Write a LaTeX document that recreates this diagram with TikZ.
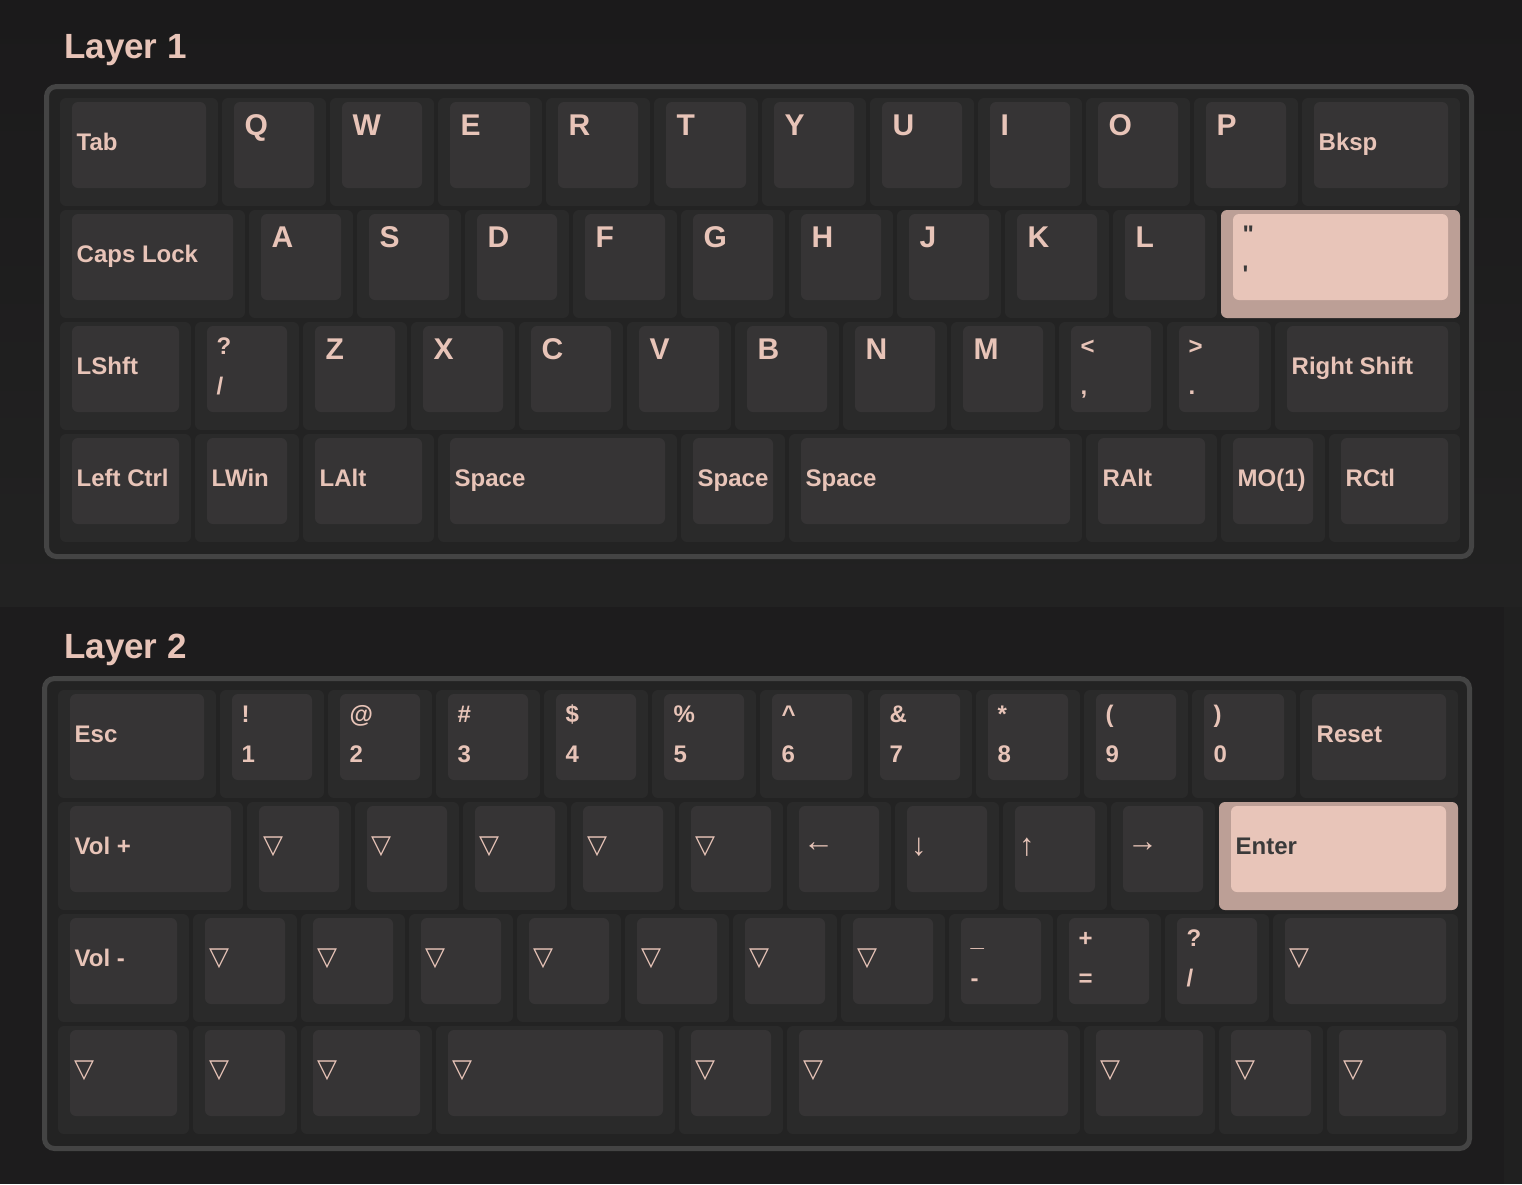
\documentclass[tikz,border=0pt]{standalone}
\usepackage{fontspec}
\setmainfont{Liberation Sans}
\newfontfamily\symfont{DejaVu Sans}
\usepackage{tikz}

\definecolor{pagetop}{HTML}{1B1A1B}
\definecolor{pagemid}{HTML}{222222}
\definecolor{pagelow}{HTML}{1D1C1D}
\definecolor{pageside}{HTML}{202020}
\definecolor{framefill}{HTML}{232323}
\definecolor{frameline}{HTML}{444444}
\definecolor{cellfill}{HTML}{2A2A2A}
\definecolor{capfill}{HTML}{363435}
\definecolor{legend}{HTML}{E8C4B8}
\definecolor{hicell}{HTML}{BC9F96}
\definecolor{hicap}{HTML}{E8C5B9}
\definecolor{hilegend}{HTML}{3A3A3A}

\tikzset{
  keycell/.style={fill=cellfill, rounded corners=6pt},
  keycellhi/.style={fill=hicell, rounded corners=6pt},
  keycap/.style={fill=capfill, rounded corners=6pt},
  keycaphi/.style={fill=hicap, rounded corners=6pt},
  txt/.style={text=legend, inner sep=0pt, anchor=base west, font=\bfseries\fontsize{24}{24}\selectfont},
  txthi/.style={txt, text=hilegend},
  letter/.style={txt, font=\bfseries\fontsize{30}{30}\selectfont},
  sym/.style={text=legend, inner sep=0pt, anchor=west, font=\symfont\fontsize{26}{26}\selectfont},
  arrowtxt/.style={text=legend, inner sep=0pt, anchor=west, font=\fontsize{31}{31}\selectfont},
  title/.style={text=legend, inner sep=0pt, anchor=base west, font=\bfseries\fontsize{35}{35}\selectfont},
  board/.style={fill=framefill, draw=frameline, line width=5pt, rounded corners=10pt},
}

% cell and cap: col, row, width, hi
\newcommand{\keybase}[4]{%
  \fill[keycell#4] ({58+#1*108+2},{96+#2*112+2}) rectangle ({58+(#1+#3)*108-2},{96+#2*112+110});
  \fill[keycap#4] ({58+#1*108+14},{96+#2*112+6}) rectangle ({58+(#1+#3)*108-14},{96+#2*112+92});}
\newcommand{\keyc}[6][]{\keybase{#3}{#4}{#5}{#1}%
  \node[txt#1] (#2) at ({76.5+#3*108},{150+#4*112}) {#6};}
\newcommand{\keyl}[5]{\keybase{#2}{#3}{#4}{}%
  \node[letter] (#1) at ({82.5+#2*108},{135+#3*112}) {#5};}
\newcommand{\keyt}[7][]{\keybase{#3}{#4}{#5}{#1}%
  \node[txt#1] (#2a) at ({81.5+#3*108},{130+#4*112}) {#6};
  \node[txt#1] (#2b) at ({81.5+#3*108},{170+#4*112}) {#7};}
\newcommand{\keys}[6][sym]{\keybase{#3}{#4}{#5}{}%
  \node[#1] (#2) at ({76+#3*108},{143+#4*112}) {#6};}

\begin{document}
\begin{tikzpicture}[x=1pt,y=-1pt]
\useasboundingbox (0,0) rectangle (1522,1184);
\shade[top color=pagetop, bottom color=pagemid] (0,0) rectangle (1522,607);
\fill[pagelow] (0,607) rectangle (1504,1184);
\fill[pageside] (1504,607) rectangle (1522,1184);

%layer 1
\node[title] (titlea) at (64,58) {Layer 1};
\draw[board] (46.5,86.5) rectangle (1471.5,556.5);
\keyc{atab}{0}{0}{1.5}{Tab}
\keyl{aq}{1.5}{0}{1}{Q}
\keyl{aw}{2.5}{0}{1}{W}
\keyl{ae}{3.5}{0}{1}{E}
\keyl{ar}{4.5}{0}{1}{R}
\keyl{at}{5.5}{0}{1}{T}
\keyl{ay}{6.5}{0}{1}{Y}
\keyl{au}{7.5}{0}{1}{U}
\keyl{ai}{8.5}{0}{1}{I}
\keyl{ao}{9.5}{0}{1}{O}
\keyl{ap}{10.5}{0}{1}{P}
\keyc{abksp}{11.5}{0}{1.5}{Bksp}
\keyc{acaps}{0}{1}{1.75}{Caps Lock}
\keyl{aa}{1.75}{1}{1}{A}
\keyl{as}{2.75}{1}{1}{S}
\keyl{ad}{3.75}{1}{1}{D}
\keyl{af}{4.75}{1}{1}{F}
\keyl{ag}{5.75}{1}{1}{G}
\keyl{ah}{6.75}{1}{1}{H}
\keyl{aj}{7.75}{1}{1}{J}
\keyl{ak}{8.75}{1}{1}{K}
\keyl{al}{9.75}{1}{1}{L}
\keyt[hi]{aquote}{10.75}{1}{2.25}{\textquotedbl}{\textquotesingle}
\keyc{alshft}{0}{2}{1.25}{LShft}
\keyt{aslash}{1.25}{2}{1}{?}{/}
\keyl{az}{2.25}{2}{1}{Z}
\keyl{ax}{3.25}{2}{1}{X}
\keyl{ac}{4.25}{2}{1}{C}
\keyl{av}{5.25}{2}{1}{V}
\keyl{ab}{6.25}{2}{1}{B}
\keyl{an}{7.25}{2}{1}{N}
\keyl{am}{8.25}{2}{1}{M}
\keyt{acomma}{9.25}{2}{1}{<}{,}
\keyt{adot}{10.25}{2}{1}{>}{.}
\keyc{arshft}{11.25}{2}{1.75}{Right Shift}
\keyc{alctrl}{0}{3}{1.25}{Left Ctrl}
\keyc{alwin}{1.25}{3}{1}{LWin}
\keyc{alalt}{2.25}{3}{1.25}{LAlt}
\keyc{aspl}{3.5}{3}{2.25}{Space}
\keyc{aspm}{5.75}{3}{1}{Space}
\keyc{aspr}{6.75}{3}{2.75}{Space}
\keyc{aralt}{9.5}{3}{1.25}{RAlt}
\keyc{amo}{10.75}{3}{1}{MO(1)}
\keyc{arctl}{11.75}{3}{1.25}{RCtl}

%layer 2
\node[title] (titleb) at (64,658) {Layer 2};
\begin{scope}[shift={(-2,592)}]
\draw[board] (46.5,86.5) rectangle (1471.5,556.5);
\keyc{besc}{0}{0}{1.5}{Esc}
\keyt{bone}{1.5}{0}{1}{!}{1}
\keyt{btwo}{2.5}{0}{1}{@}{2}
\keyt{bthree}{3.5}{0}{1}{\#}{3}
\keyt{bfour}{4.5}{0}{1}{\$}{4}
\keyt{bfive}{5.5}{0}{1}{\%}{5}
\keyt{bsix}{6.5}{0}{1}{\textasciicircum}{6}
\keyt{bseven}{7.5}{0}{1}{\&}{7}
\keyt{beight}{8.5}{0}{1}{*}{8}
\keyt{bnine}{9.5}{0}{1}{(}{9}
\keyt{bzero}{10.5}{0}{1}{)}{0}
\keyc{breset}{11.5}{0}{1.5}{Reset}
\keyc{bvolup}{0}{1}{1.75}{Vol +}
\keys{bta}{1.75}{1}{1}{▽}
\keys{btb}{2.75}{1}{1}{▽}
\keys{btc}{3.75}{1}{1}{▽}
\keys{btd}{4.75}{1}{1}{▽}
\keys{bte}{5.75}{1}{1}{▽}
\keys[arrowtxt]{bleft}{6.75}{1}{1}{←}
\keys[arrowtxt]{bdown}{7.75}{1}{1}{↓}
\keys[arrowtxt]{bup}{8.75}{1}{1}{↑}
\keys[arrowtxt]{bright}{9.75}{1}{1}{→}
\keyc[hi]{benter}{10.75}{1}{2.25}{Enter}
\keyc{bvoldn}{0}{2}{1.25}{Vol -}
\keys{btf}{1.25}{2}{1}{▽}
\keys{btg}{2.25}{2}{1}{▽}
\keys{bth}{3.25}{2}{1}{▽}
\keys{bti}{4.25}{2}{1}{▽}
\keys{btj}{5.25}{2}{1}{▽}
\keys{btk}{6.25}{2}{1}{▽}
\keys{btl}{7.25}{2}{1}{▽}
\keyt{bminus}{8.25}{2}{1}{\_}{-}
\keyt{bequal}{9.25}{2}{1}{+}{=}
\keyt{bslash}{10.25}{2}{1}{?}{/}
\keys{btm}{11.25}{2}{1.75}{▽}
\keys{btn}{0}{3}{1.25}{▽}
\keys{bto}{1.25}{3}{1}{▽}
\keys{btp}{2.25}{3}{1.25}{▽}
\keys{btq}{3.5}{3}{2.25}{▽}
\keys{btr}{5.75}{3}{1}{▽}
\keys{bts}{6.75}{3}{2.75}{▽}
\keys{btt}{9.5}{3}{1.25}{▽}
\keys{btu}{10.75}{3}{1}{▽}
\keys{btv}{11.75}{3}{1.25}{▽}
\end{scope}
\end{tikzpicture}
\end{document}
